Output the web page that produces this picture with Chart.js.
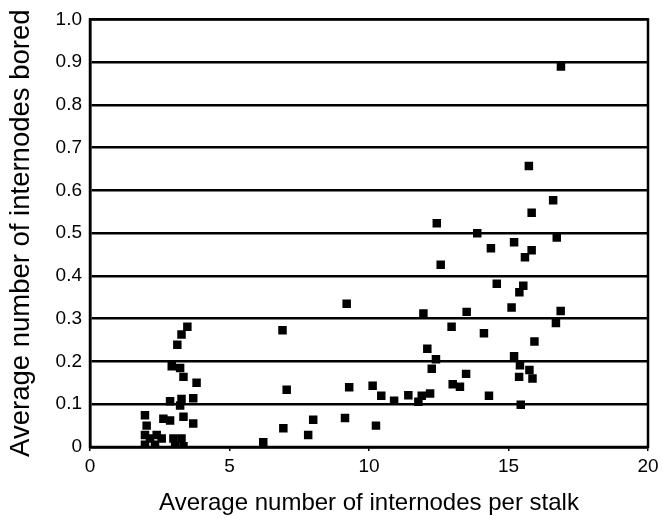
<!DOCTYPE html>
<html>
<head>
<meta charset="utf-8">
<script src="https://cdn.jsdelivr.net/npm/chart.js@4/dist/chart.umd.min.js"></script>
<style>
  html, body { margin: 0; padding: 0; background: #fff; }
  #wrap { width: 672px; height: 518px; }
</style>
</head>
<body>
<div id="wrap"><canvas id="myChart" width="672" height="518"></canvas></div>
<script>
// internodes per stalk (x) and internodes bored (y)
var xValues = [
    1.97, 2.03, 1.97, 2.15, 2.39, 2.57, 1.97, 2.33, 2.63, 2.87, 2.99, 3.05, 3.28, 3.35,
    3.35, 3.70, 3.23, 2.87, 3.28, 3.70, 3.82, 3.35, 2.93, 3.23, 3.13, 3.28, 3.49,
    6.21, 6.93, 7.82, 8.00, 9.14, 7.05, 9.29, 6.90, 9.20, 10.13, 10.44, 10.90, 10.25,
    11.41, 11.77, 11.89, 12.19, 13.00, 13.26, 13.48, 12.25, 12.40, 12.09, 14.30,
    11.95, 12.96, 13.50, 14.12, 15.11, 15.39, 15.53, 14.58, 12.57, 15.59, 14.37,
    15.20, 13.88, 12.43, 15.83, 16.60, 15.73, 16.88, 16.73, 15.83, 16.87, 16.70,
    15.93, 15.20, 15.41, 15.75, 15.38, 15.86, 15.44
];
var yValues = [
    0.074, 0.050, 0.028, 0.020, 0.028, 0.020, 0.005, 0.005, 0.066, 0.062, 0.020, 0.002, 0.020, 0.002,
    0.071, 0.055, 0.097, 0.107, 0.112, 0.114, 0.150, 0.164, 0.189, 0.185, 0.239, 0.263, 0.281,
    0.011, 0.044, 0.028, 0.064, 0.068, 0.134, 0.140, 0.273, 0.335, 0.143, 0.120, 0.108, 0.050,
    0.121, 0.106, 0.120, 0.125, 0.147, 0.141, 0.171, 0.183, 0.205, 0.230, 0.120,
    0.312, 0.281, 0.316, 0.266, 0.326, 0.362, 0.377, 0.382, 0.426, 0.444, 0.465,
    0.479, 0.500, 0.523, 0.548, 0.577, 0.657, 0.890, 0.490, 0.460, 0.318, 0.290,
    0.247, 0.212, 0.191, 0.180, 0.164, 0.160, 0.099
];
var xTicks = [0, 5, 10, 15, 20];
var yTicks = [0, 0.1, 0.2, 0.3, 0.4, 0.5, 0.6, 0.7, 0.8, 0.9, 1.0];

var points = xValues.map(function (v, i) { return { x: v, y: yValues[i] }; });

// white page + box round the plot area
var frame = {
    id: 'frame',
    beforeDraw: function (chart) {
        var c = chart.ctx;
        c.save();
        c.fillStyle = '#fff';
        c.fillRect(0, 0, chart.width, chart.height);
        c.restore();
    },
    afterDatasetsDraw: function (chart) {
        var a = chart.chartArea, c = chart.ctx;
        c.save();
        c.strokeStyle = '#000';
        c.lineWidth = 2.5;
        c.strokeRect(a.left, a.top, a.right - a.left, a.bottom - a.top);
        c.restore();
    }
};

Chart.defaults.font.family = '"Liberation Sans", Arial, sans-serif';
Chart.defaults.color = '#000';

var ctx = document.getElementById('myChart');
var myChart = new Chart(ctx, {
    type: 'scatter',
    data: {
        datasets: [{
            data: points,
            pointStyle: 'rect',
            pointRadius: 6,
            pointHoverRadius: 6,
            backgroundColor: '#000',
            borderColor: '#000',
            borderWidth: 0
        }]
    },
    options: {
        responsive: false,
        animation: false,
        events: [],
        layout: { padding: { left: 0, right: 24, top: 13, bottom: 0 } },
        plugins: { legend: { display: false }, tooltip: { enabled: false } },
        scales: {
            x: {
                type: 'linear', min: 0, max: 20,
                afterBuildTicks: function (s) { s.ticks = xTicks.map(function (v) { return { value: v }; }); },
                afterFit: function (s) { s.height = 71; },
                grid: { drawOnChartArea: false, drawTicks: true, tickLength: 4, color: '#000', lineWidth: 1.5 },
                border: { color: '#000', width: 2.5 },
                ticks: { font: { size: 19 }, padding: 4, maxRotation: 0 },
                title: { display: true, text: 'Average number of internodes per stalk', font: { size: 24 }, padding: { top: 8, bottom: 0 } }
            },
            y: {
                type: 'linear', min: 0, max: 1,
                afterBuildTicks: function (s) { s.ticks = yTicks.map(function (v) { return { value: v }; }); },
                afterFit: function (s) { s.width = 90; },
                grid: { color: '#000', lineWidth: 2.5, drawTicks: false },
                border: { color: '#000', width: 2.5 },
                ticks: {
                    font: { size: 19 }, padding: 8,
                    callback: function (v) { return v === 0 ? '0' : v.toFixed(1); }
                },
                title: { display: true, text: 'Average number of internodes bored', font: { size: 27.5 }, padding: { top: 5, bottom: 0 } }
            }
        }
    },
    plugins: [frame]
});
</script>
</body>
</html>
